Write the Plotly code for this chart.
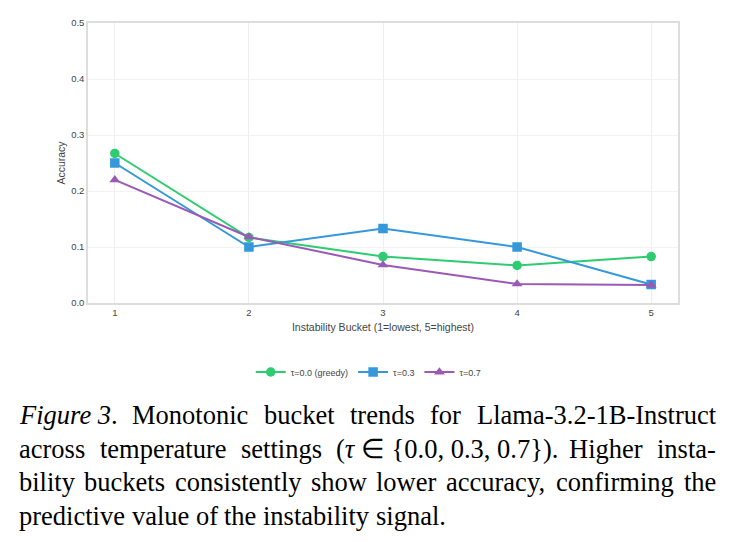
import plotly.graph_objects as go

buckets = [1, 2, 3, 4, 5]
acc_greedy = [0.267, 0.117, 0.083, 0.067, 0.083]
acc_t03 = [0.250, 0.100, 0.133, 0.100, 0.033]
acc_t07 = [0.220, 0.118, 0.068, 0.034, 0.032]
series_names = ["τ=0.0 (greedy)", "τ=0.3", "τ=0.7"]
# caption: each line is a list of word chunks (html text, plain text for width estimate)
caption_lines = [
    [("<i>Figure 3</i>.", "Figure 3."), ("Monotonic", None), ("bucket", None), ("trends", None),
     ("for", None), ("Llama-3.2-1B-Instruct", None)],
    [("across", None), ("temperature", None), ("settings", None),
     ("(<i>τ</i> ∈ {0.0, 0.3, 0.7}).", "(τ ∈ {0.0, 0.3, 0.7})."), ("Higher", None), ("insta-", None)],
    [("bility", None), ("buckets", None), ("consistently", None), ("show", None), ("lower", None),
     ("accuracy,", None), ("confirming", None), ("the", None)],
    [("predictive", None), ("value", None), ("of", None), ("the", None), ("instability", None),
     ("signal.", None)],
]
justify_flags = [True, True, True, False]

colors = ["#2ecc71", "#3498db", "#9b59b6"]
symbols = ["circle", "square", "triangle-up"]

fig = go.Figure()
for ys, name, c, s in zip([acc_greedy, acc_t03, acc_t07], series_names, colors, symbols):
    fig.add_trace(go.Scatter(
        x=buckets, y=ys, name=name, mode="lines+markers",
        line=dict(color=c, width=2),
        marker=dict(color=c, symbol=s, size=9.5),
    ))

W, H = 739, 542
L, R, T, B = 88, 678, 23, 303
fig.update_layout(
    width=W, height=H,
    margin=dict(l=L, r=W - R, t=T, b=H - B),
    paper_bgcolor="white", plot_bgcolor="white",
    font=dict(family="Liberation Sans, Arial, sans-serif", size=10, color="#444"),
    showlegend=True,
    legend=dict(orientation="h", x=0.475, xanchor="center", y=(B - 372) / (B - T), yanchor="middle",
                font=dict(size=9, color="#444"), itemwidth=30),
    xaxis=dict(range=[0.8, 5.2], tickvals=buckets, ticktext=[str(b) for b in buckets],
               showgrid=True, gridcolor="#eeeeee", gridwidth=1,
               showline=True, linecolor="#dddddd", linewidth=1.5, mirror=True,
               zeroline=False, ticks="", tickfont=dict(size=9.5, color="#444"),
               title=dict(text="Instability Bucket (1=lowest, 5=highest)", font=dict(size=10.5, color="#444"), standoff=6)),
    yaxis=dict(range=[0, 0.5], tickvals=[0, 0.1, 0.2, 0.3, 0.4, 0.5],
               tickformat=".1f",
               showgrid=True, gridcolor="#f2f2f2", gridwidth=1,
               showline=True, linecolor="#dddddd", linewidth=1.5, mirror=True,
               zeroline=False, ticks="", tickfont=dict(size=9.5, color="#444"),
               title=dict(text="Accuracy", font=dict(size=10.5, color="#444"), standoff=3)),
)

# approximate Times (Liberation Serif) advance widths, per 1000 em
TW = dict(zip("abcdefghijklmnopqrstuvwxyz",
              [444, 500, 444, 500, 444, 333, 500, 500, 278, 278, 500, 278, 778,
               500, 500, 500, 500, 333, 389, 278, 500, 500, 722, 500, 500, 444]))
TW.update({"B": 667, "H": 722, "I": 333, "L": 611, "M": 889, "F": 611, " ": 250, ".": 250,
           ",": 250, "-": 333, "(": 333, ")": 333, "{": 480, "}": 480, "τ": 440, "∈": 670})
for d in "0123456789":
    TW[d] = 500


def text_w(s, size):
    return sum(TW.get(ch, 500) for ch in s) * size / 1000.0


cap_size = 26.5
cap_font = dict(family="Liberation Serif, Times New Roman, serif", size=cap_size, color="black")
left_px, right_px = 17, 714
line_y = [415, 449, 482, 516]
for words, py, just in zip(caption_lines, line_y, justify_flags):
    yy = (B - py) / (B - T)
    widths = [text_w(p if p is not None else h, cap_size) for h, p in words]
    if just and len(words) > 1:
        gap = (right_px - left_px - sum(widths)) / (len(words) - 1)
    else:
        gap = TW[" "] * cap_size / 1000.0
    xpos = left_px
    for (h, p), w in zip(words, widths):
        fig.add_annotation(text=h, xref="paper", yref="paper",
                           x=(xpos - L) / (R - L), y=yy,
                           xanchor="left", yanchor="middle", showarrow=False, font=cap_font)
        xpos += w + gap

fig.write_html("out.html")
